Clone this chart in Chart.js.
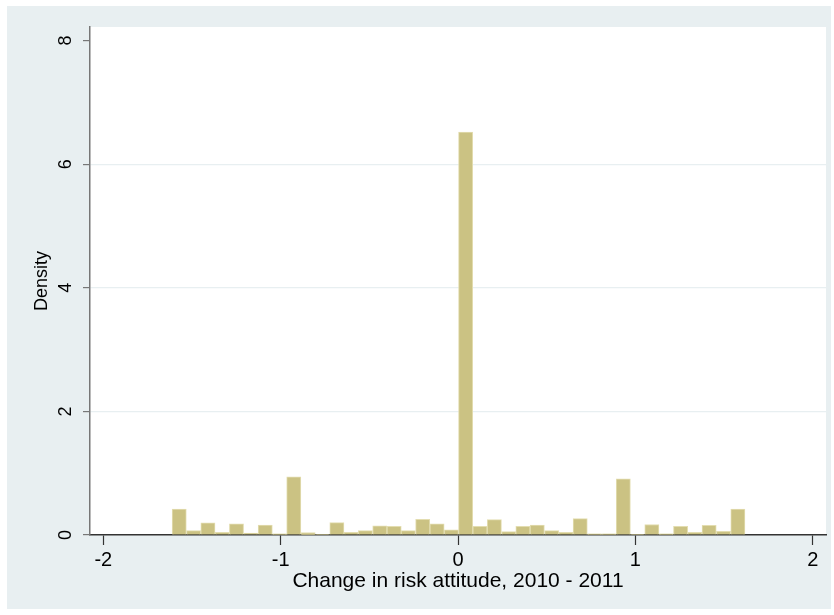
<!DOCTYPE html>
<html>
<head>
<meta charset="utf-8">
<script src="https://cdn.jsdelivr.net/npm/chart.js@4"></script>
<style>
html, body { margin: 0; padding: 0; background: #fff; }
#wrap { width: 834px; height: 615px; position: relative; }
</style>
</head>
<body>
<div id="wrap"><canvas id="histChart"></canvas></div>
<script>
// Histogram bins (centres) and their densities
const binCenters = [
    -1.572, -1.491, -1.410, -1.329, -1.249, -1.168, -1.087, -1.006, -0.926, -0.845,
    -0.764, -0.683, -0.603, -0.522, -0.441, -0.360, -0.280, -0.199, -0.118, -0.037,
    0.043, 0.124, 0.205, 0.286, 0.366, 0.447, 0.528, 0.609, 0.689, 0.770,
    0.851, 0.932, 1.012, 1.093, 1.174, 1.255, 1.335, 1.416, 1.497, 1.578
];
const density = [
    0.42, 0.07, 0.195, 0.045, 0.18, 0.03, 0.16, 0.02, 0.94, 0.04,
    0.01, 0.20, 0.045, 0.07, 0.15, 0.14, 0.07, 0.255, 0.18, 0.085,
    6.52, 0.14, 0.25, 0.055, 0.14, 0.16, 0.07, 0.045, 0.265, 0.02,
    0.02, 0.91, 0.01, 0.17, 0.02, 0.14, 0.045, 0.155, 0.06, 0.42
];
const xTicks = [-2, -1, 0, 1, 2];
const yTicks = [0, 2, 4, 6, 8];

const FONT = 'Liberation Sans, Arial, Helvetica, sans-serif';
const panelColor = '#e8eff1';

// Background panel + white plot region
const panelPlugin = {
    id: 'panel',
    beforeDraw(chart) {
        const { ctx, chartArea } = chart;
        ctx.save();
        ctx.fillStyle = '#ffffff';
        ctx.fillRect(0, 0, chart.width, chart.height);
        ctx.fillStyle = panelColor;
        ctx.fillRect(7, 6, 824, 603);
        ctx.fillStyle = '#ffffff';
        ctx.fillRect(chartArea.left, chartArea.top, chartArea.right - chartArea.left, chartArea.bottom - chartArea.top);
        ctx.restore();
    }
};

// Vertical (rotated) y tick labels, like Stata draws them
const yLabelPlugin = {
    id: 'yLabels',
    afterDraw(chart) {
        const { ctx } = chart;
        const scale = chart.scales.y;
        ctx.save();
        ctx.fillStyle = '#000';
        ctx.font = '18px ' + FONT;
        ctx.textAlign = 'center';
        ctx.textBaseline = 'middle';
        scale.ticks.forEach(t => {
            const y = scale.getPixelForValue(t.value);
            ctx.save();
            ctx.translate(66, y);
            ctx.rotate(-Math.PI / 2);
            ctx.fillText(String(t.value), 0, 0);
            ctx.restore();
        });
        ctx.restore();
    }
};

const ctx = document.getElementById('histChart').getContext('2d');
const histChart = new Chart(ctx, {
    type: 'bar',
    data: {
        datasets: [{
            data: binCenters.map((x, i) => ({ x: x, y: density[i] })),
            backgroundColor: '#cbc283',
            borderColor: '#e3ddb0',
            borderWidth: 1,
            barPercentage: 1,
            categoryPercentage: 1
        }]
    },
    options: {
        responsive: true,
        maintainAspectRatio: false,
        animation: false,
        layout: { padding: { top: 27, right: 8, left: 0, bottom: 0 } },
        plugins: {
            legend: { display: false },
            tooltip: { enabled: false }
        },
        scales: {
            x: {
                type: 'linear',
                min: -2.075,
                max: 2.075,
                offset: false,
                afterBuildTicks: scale => { scale.ticks = xTicks.map(v => ({ value: v })); },
                afterFit: scale => { scale.height = 80; },
                ticks: {
                    autoSkip: false,
                    maxRotation: 0,
                    padding: 3,
                    color: '#000',
                    font: { family: FONT, size: 20 },
                    callback: v => String(v)
                },
                grid: {
                    offset: false,
                    drawOnChartArea: false,
                    drawTicks: true,
                    tickLength: 10,
                    tickColor: '#333',
                    tickWidth: 1.2
                },
                border: { color: '#333', width: 1.5 },
                title: {
                    display: true,
                    text: 'Change in risk attitude, 2010 - 2011',
                    color: '#000',
                    font: { family: FONT, size: 21 },
                    padding: { top: 0, bottom: 21 }
                }
            },
            y: {
                type: 'linear',
                min: 0,
                max: 8.22,
                afterBuildTicks: scale => { scale.ticks = yTicks.map(v => ({ value: v })); },
                afterFit: scale => { scale.width = 90; },
                ticks: { display: false },
                grid: {
                    color: c => (c.tick && c.tick.value > 0 && c.tick.value < 8) ? '#e8eff1' : 'rgba(0,0,0,0)',
                    lineWidth: 1.2,
                    drawTicks: true,
                    tickLength: 7,
                    tickColor: '#777',
                    tickWidth: 1.2
                },
                border: { color: '#777', width: 1.5 },
                title: {
                    display: true,
                    text: 'Density',
                    color: '#000',
                    font: { family: FONT, size: 18 },
                    padding: { top: 31, bottom: 0 }
                }
            }
        }
    },
    plugins: [panelPlugin, yLabelPlugin]
});
</script>
</body>
</html>
